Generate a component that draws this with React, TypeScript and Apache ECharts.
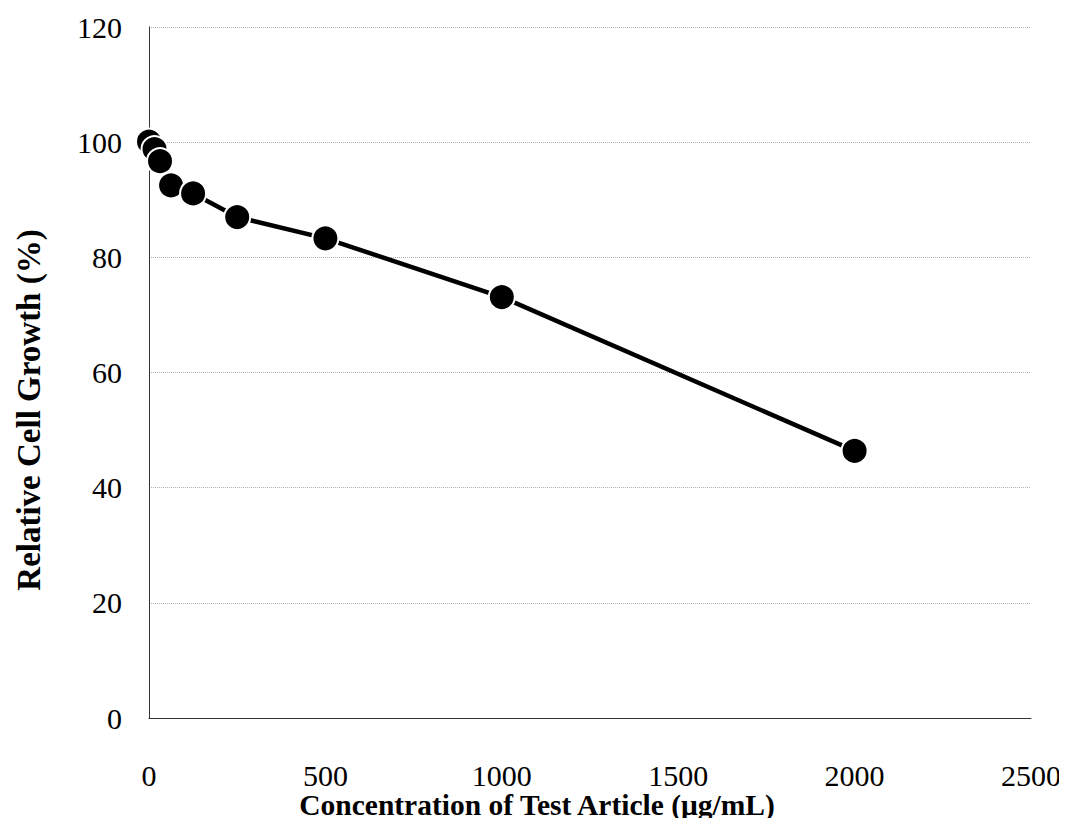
import React, { useEffect, useRef } from "react";
import * as echarts from "echarts";

const concentrations = [0, 15.6, 31.25, 62.5, 125, 250, 500, 1000, 2000];
const growth = [100.1, 98.8, 96.7, 92.5, 91.1, 87.0, 83.3, 73.1, 46.4];
const xTitle = "Concentration of Test Article (μg/mL)";
const yTitle = "Relative Cell Growth (%)";

const serif = "'Liberation Serif', 'Times New Roman', Times, serif";

export default function App() {
  const ref = useRef<HTMLDivElement>(null);
  useEffect(() => {
    if (!ref.current) return;
    const chart = echarts.init(ref.current, null, { renderer: "svg" });
    const data = concentrations.map((c, i) => [c, growth[i]]);
    chart.setOption({
      animation: false,
      backgroundColor: "#ffffff",
      grid: { left: 149, right: 36, top: 27, bottom: 108, containLabel: false },
      xAxis: [
        {
          type: "value",
          min: 0,
          max: 2500,
          interval: 500,
          axisLine: { show: true, lineStyle: { color: "#b0b0b0", type: "dotted", width: 1 } },
          axisTick: { show: false },
          splitLine: { show: false },
          axisLabel: {
            color: "#000",
            fontFamily: serif,
            fontSize: 30,
            margin: 42,
            formatter: (v: number) => String(v),
          },
        },
        {
          type: "value",
          position: "top",
          min: 0,
          max: 2500,
          interval: 500,
          axisLine: { show: true, lineStyle: { color: "#333", width: 1 } },
          axisTick: { show: false },
          splitLine: { show: false },
          axisLabel: { show: false },
        },
      ],
      yAxis: [
        {
          type: "value",
          min: 0,
          max: 120,
          interval: 20,
          axisLine: { show: true, lineStyle: { color: "#b0b0b0", type: "dotted", width: 1 } },
          axisTick: { show: false },
          splitLine: { show: true, lineStyle: { color: "#b0b0b0", type: "dotted", width: 1 } },
          axisLabel: { color: "#000", fontFamily: serif, fontSize: 30, margin: 27 },
        },
        {
          type: "value",
          position: "right",
          min: 0,
          max: 120,
          interval: 20,
          axisLine: { show: true, lineStyle: { color: "#333", width: 1 } },
          axisTick: { show: false },
          splitLine: { show: false },
          axisLabel: { show: false },
        },
      ],
      graphic: [
        {
          type: "text",
          x: 537,
          y: 805,
          style: {
            text: xTitle,
            fontFamily: serif,
            fontWeight: "bold",
            fontSize: 29.5,
            fill: "#000",
            align: "center",
            verticalAlign: "middle",
          },
        },
        {
          type: "text",
          x: 29,
          y: 410,
          rotation: Math.PI / 2,
          style: {
            text: yTitle,
            fontFamily: serif,
            fontWeight: "bold",
            fontSize: 33,
            fill: "#000",
            align: "center",
            verticalAlign: "middle",
          },
        },
      ],
      series: [
        {
          type: "line",
          xAxisIndex: 0,
          yAxisIndex: 0,
          data,
          symbol: "circle",
          symbolSize: 26,
          lineStyle: { color: "#000", width: 4.5 },
          itemStyle: { color: "#000", borderColor: "#fff", borderWidth: 2 },
          emphasis: { disabled: true },
        },
      ],
    });
    return () => chart.dispose();
  }, []);
  return <div ref={ref} style={{ width: 1067, height: 826, margin: -8 }} />;
}
